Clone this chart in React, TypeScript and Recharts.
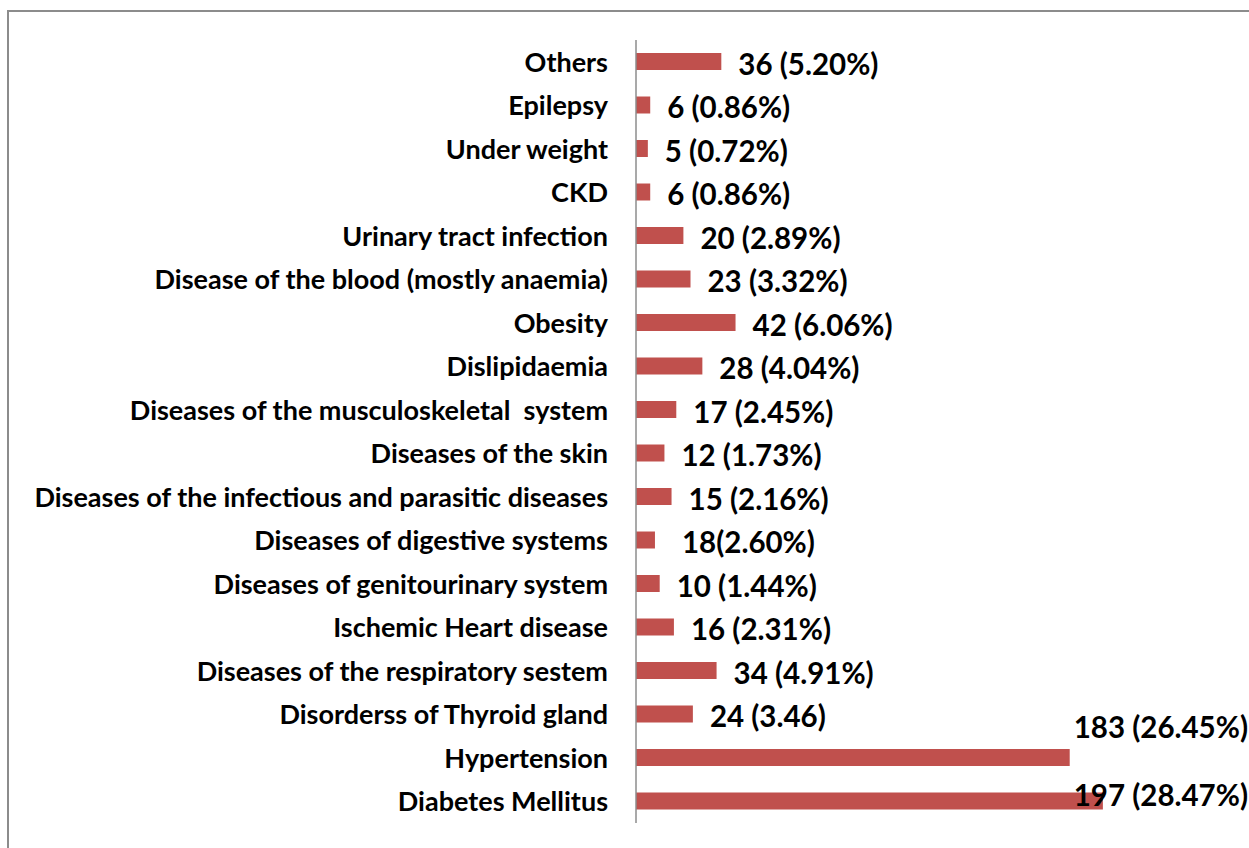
import { BarChart, Bar, XAxis, YAxis, LabelList } from 'recharts';

const categories = [
  'Others',
  'Epilepsy',
  'Under weight',
  'CKD',
  'Urinary tract infection',
  'Disease of the blood (mostly anaemia)',
  'Obesity',
  'Dislipidaemia',
  'Diseases of the musculoskeletal  system',
  'Diseases of the skin',
  'Diseases of the infectious and parasitic diseases',
  'Diseases of digestive systems',
  'Diseases of genitourinary system',
  'Ischemic Heart disease',
  'Diseases of the respiratory sestem',
  'Disorderss of Thyroid gland',
  'Hypertension',
  'Diabetes Mellitus',
];

// bar lengths as drawn in the picture (the digestive bar is drawn short of its label)
const values = [36, 6, 5, 6, 20, 23, 42, 28, 17, 12, 15, 8, 10, 16, 34, 24, 183, 197];

const valueLabels = [
  '36 (5.20%)',
  '6 (0.86%)',
  '5 (0.72%)',
  '6 (0.86%)',
  '20 (2.89%)',
  '23 (3.32%)',
  '42 (6.06%)',
  '28 (4.04%)',
  '17 (2.45%)',
  '12 (1.73%)',
  '15 (2.16%)',
  '18(2.60%)',
  '10 (1.44%)',
  '16 (2.31%)',
  '34 (4.91%)',
  '24 (3.46)',
  '183 (26.45%)',
  '197 (28.47%)',
];

const data = categories.map((name, i) => ({ name, value: values[i], label: valueLabels[i] }));

const W = 1249;
const H = 848;
const FONT = 'Lato, "Open Sans", sans-serif';

/* Labels that Excel pushed around: right-aligned at the edge and lifted above the bar */
const edgeLabels: Record<string, number> = { Hypertension: -31, 'Diabetes Mellitus': -7 };
const extraGap: Record<string, number> = { 'Diseases of digestive systems': 10 };

const CategoryTick = (props: any) => {
  const { x, y, payload } = props;
  return (
    <text
      x={x - 22}
      y={y - 0.5}
      textAnchor="end"
      dominantBaseline="central"
      fontFamily={FONT}
      fontWeight={700}
      fontSize={27}
      fill="#000"
      style={{ whiteSpace: 'pre' }}
    >
      {payload.value}
    </text>
  );
};

const ValueLabel = (props: any) => {
  const { x, y, width, height, index } = props;
  const row = data[index];
  const cy = y + height / 2;
  if (row.name in edgeLabels) {
    return (
      <text
        x={W - 1}
        y={cy + edgeLabels[row.name]}
        textAnchor="end"
        dominantBaseline="central"
        fontFamily={FONT}
        fontWeight={700}
        fontSize={29.5}
        fill="#000"
      >
        {row.label}
      </text>
    );
  }
  return (
    <text
      x={x + width + 17 + (extraGap[row.name] || 0)}
      y={cy + 1.5}
      textAnchor="start"
      dominantBaseline="central"
      fontFamily={FONT}
      fontWeight={700}
      fontSize={29.5}
      fill="#000"
    >
      {row.label}
    </text>
  );
};

export default function App() {
  return (
    <div
      style={{
        position: 'absolute',
        left: 0,
        top: 0,
        width: W,
        height: H,
        overflow: 'hidden',
        background: '#fff',
      }}
    >
      {/* chart frame, only its top and left edges fall inside the picture */}
      <div
        style={{
          position: 'absolute',
          left: 7,
          top: 10,
          width: W + 50,
          height: H + 50,
          borderTop: '2px solid #8c8c8c',
          borderLeft: '2px solid #8c8c8c',
        }}
      />
      <div style={{ position: 'absolute', left: 0, top: 0 }}>
        <BarChart
          width={W}
          height={H}
          data={data}
          layout="vertical"
          margin={{ top: 40, right: 139, bottom: 25, left: 0 }}
          barSize={17}
        >
          <XAxis type="number" domain={[0, 200]} hide />
          <YAxis
            type="category"
            dataKey="name"
            width={636}
            axisLine={{ stroke: '#8c8c8c', strokeWidth: 1.5 }}
            tickLine={false}
            tickMargin={0}
            tick={<CategoryTick />}
            interval={0}
          />
          <Bar dataKey="value" fill="#C0504D" isAnimationActive={false}>
            <LabelList dataKey="label" content={<ValueLabel />} />
          </Bar>
        </BarChart>
      </div>
    </div>
  );
}
